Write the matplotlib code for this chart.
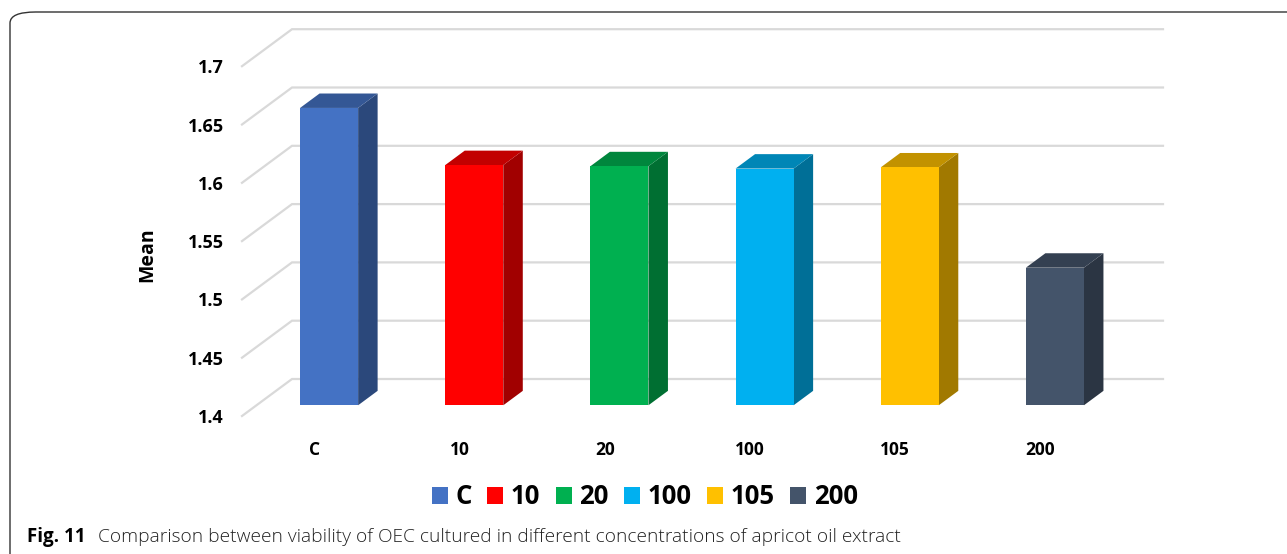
import matplotlib
matplotlib.use('Agg')
import matplotlib.pyplot as plt
from matplotlib.patches import Polygon, FancyBboxPatch, Patch
import numpy as np

categories = ['C', '10', '20', '100', '105', '200']
means = [1.655, 1.606, 1.605, 1.603, 1.604, 1.518]
front_colors = ['#4472C4', '#FF0000', '#00B050', '#00B0F0', '#FFC000', '#44546A']
y_ticks = [1.4, 1.45, 1.5, 1.55, 1.6, 1.65, 1.7]
y_tick_labels = ['1.4', '1.45', '1.5', '1.55', '1.6', '1.65', '1.7']

W, H = 1287, 554
fig = plt.figure(figsize=(W / 100, H / 100), dpi=100)

# front plane of the pseudo-3d box
ax = fig.add_axes([242 / W, (H - 416) / H, 871 / W, 349.8 / H])
ax.set_xlim(0, len(categories))
ax.set_ylim(1.4, 1.7)
for s in ax.spines.values():
    s.set_visible(False)

# oblique depth offset per unit depth, in data units
DX = 50 / 871 * len(categories)
DY = 37 / 349.8 * 0.3


def pt(x, y, d):
    return (x + d * DX, y + d * DY)


def shade(c, f):
    r, g, b = matplotlib.colors.to_rgb(c)
    return (r * f, g * f, b * f)


grid_c = '#d9d9d9'
base = y_ticks[0]
for v in y_ticks:
    x0, y0 = pt(0, v, 0)
    x1, y1 = pt(0, v, 1)
    x2, y2 = pt(len(categories), v, 1)
    ax.plot([x0, x1, x2], [y0, y1, y2], color=grid_c, lw=1.6, clip_on=False,
            zorder=1, solid_joinstyle='miter')

d0, d1 = 0.29, 0.68
hw = 0.2
for i, (v, col) in enumerate(zip(means, front_colors)):
    c = i + 0.5
    side = [pt(c + hw, base, d0), pt(c + hw, base, d1), pt(c + hw, v, d1), pt(c + hw, v, d0)]
    top = [pt(c - hw, v, d0), pt(c + hw, v, d0), pt(c + hw, v, d1), pt(c - hw, v, d1)]
    front = [pt(c - hw, base, d0), pt(c + hw, base, d0), pt(c + hw, v, d0), pt(c - hw, v, d0)]
    ax.add_patch(Polygon(side, closed=True, fc=shade(col, 0.63), ec='none', clip_on=False, zorder=3))
    ax.add_patch(Polygon(top, closed=True, fc=shade(col, 0.76), ec='none', clip_on=False, zorder=3))
    ax.add_patch(Polygon(front, closed=True, fc=col, ec='none', clip_on=False, zorder=4))

font = 'Open Sans'
ax.set_yticks(y_ticks)
ax.set_yticklabels(y_tick_labels, fontsize=13, fontweight='bold', family=font)
ax.set_xticks(np.arange(len(categories)) + 0.5)
ax.set_xticklabels(categories, fontsize=12.5, fontweight='bold', family=font)
ax.tick_params(axis='y', length=0, pad=13)
ax.tick_params(axis='x', length=0, pad=18)
ax.set_ylabel('Mean', fontsize=14, fontweight='bold', family=font)
ax.yaxis.set_label_coords(-0.097, 0.46)

handles = [Patch(fc=c, ec='none') for c in front_colors]
fig.legend(handles, categories, loc='center', bbox_to_anchor=(645 / W, 1 - 497 / H),
           ncol=6, frameon=False, handlelength=0.62, handleheight=0.62, handletextpad=0.3,
           columnspacing=0.6, prop={'family': font, 'weight': 'bold', 'size': 18.5})

# panel border
fig.patches.append(FancyBboxPatch((10 / W, -0.1), 1.2, 1.1 - 12 / H,
                                  boxstyle='round,pad=0,rounding_size=0.02',
                                  transform=fig.transFigure, fc='none', ec='#333333', lw=1.0))

fig.text(27 / W, 1 - 537 / H, 'Fig. 11', fontsize=13.5, fontweight='bold',
         family='Open Sans', va='center')
fig.text(98 / W, 1 - 537 / H,
         'Comparison between viability of OEC cultured in different concentrations of apricot oil extract',
         fontsize=13.8, fontweight='light', family='Open Sans', va='center', color='#222222')

fig.savefig('out.png', dpi=100)
